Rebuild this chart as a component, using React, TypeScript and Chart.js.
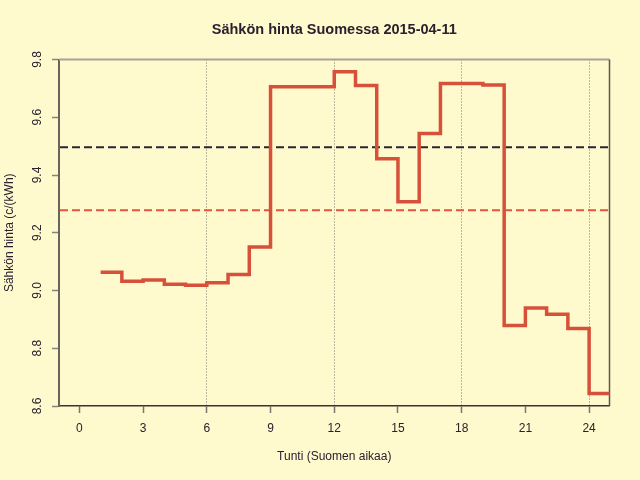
import React, { useEffect, useRef } from 'react';

import Chart from 'chart.js/auto';

const hours = [1, 2, 3, 4, 5, 6, 7, 8, 9, 10, 11, 12, 13, 14, 15, 16, 17, 18, 19, 20, 21, 22, 23, 24, 25];
const prices = [
  9.063, 9.032, 9.036, 9.022, 9.018, 9.027, 9.055, 9.151, 9.706, 9.706, 9.706, 9.758, 9.71,
  9.456, 9.307, 9.544, 9.717, 9.717, 9.712, 8.879, 8.939, 8.918, 8.868, 8.643, 8.643,
];
const xTicks = [0, 3, 6, 9, 12, 15, 18, 21, 24];
const yTicks = [8.6, 8.8, 9.0, 9.2, 9.4, 9.6, 9.8];
const refValues = [9.496, 9.278];
const refColors = ['#2a2430', '#e0563c'];

const title = 'Sähkön hinta Suomessa 2015-04-11';
const xTitle = 'Tunti (Suomen aikaa)';
const yTitle = 'Sähkön hinta (c/(kWh)';

const BG = '#fffacd';
const FONT = '"Liberation Sans", Arial, sans-serif';

const decor = {
  id: 'decor',
  beforeDraw(chart: any) {
    const { ctx, width, height } = chart;
    ctx.save();
    ctx.fillStyle = BG;
    ctx.fillRect(0, 0, width, height);
    ctx.restore();
  },
  beforeDatasetsDraw(chart: any) {
    const { ctx, chartArea } = chart;
    const y = chart.scales.y;
    ctx.save();
    ctx.lineWidth = 2;
    ctx.setLineDash([8, 4]);
    refValues.forEach((v, i) => {
      const py = y.getPixelForValue(v);
      ctx.strokeStyle = refColors[i];
      ctx.beginPath();
      ctx.moveTo(chartArea.left + 1, py);
      ctx.lineTo(chartArea.right - 1, py);
      ctx.stroke();
    });
    ctx.setLineDash([]);
    // top and right frame
    ctx.lineWidth = 2;
    ctx.strokeStyle = '#aaa294';
    ctx.beginPath();
    ctx.moveTo(chartArea.left, chartArea.top);
    ctx.lineTo(chartArea.right, chartArea.top);
    ctx.stroke();
    ctx.lineWidth = 1.5;
    ctx.strokeStyle = '#5e5650';
    ctx.beginPath();
    ctx.moveTo(chartArea.right, chartArea.top);
    ctx.lineTo(chartArea.right, chartArea.bottom);
    ctx.stroke();
    ctx.restore();
  },
  afterDraw(chart: any) {
    const { ctx, chartArea } = chart;
    const y = chart.scales.y;
    const cx = (chartArea.left + chartArea.right) / 2;
    ctx.save();
    ctx.fillStyle = '#2b2030';
    ctx.textAlign = 'center';
    ctx.textBaseline = 'middle';
    ctx.font = `bold 14.5px ${FONT}`;
    ctx.fillText(title, cx, 30);
    ctx.font = `12px ${FONT}`;
    ctx.fillText(xTitle, cx, 457);
    yTicks.forEach((v) => {
      ctx.save();
      ctx.translate(38, y.getPixelForValue(v));
      ctx.rotate(-Math.PI / 2);
      ctx.fillText(v.toFixed(1), 0, 0);
      ctx.restore();
    });
    ctx.save();
    ctx.translate(10, (chartArea.top + chartArea.bottom) / 2);
    ctx.rotate(-Math.PI / 2);
    ctx.fillText(yTitle, 0, 0);
    ctx.restore();
    ctx.restore();
  },
};

const App = () => {
  const canvasRef = useRef<HTMLCanvasElement>(null);

  useEffect(() => {
    const canvas = canvasRef.current;
    let chart: Chart | null = null;

    if (canvas) {
      chart = new Chart(canvas, {
        type: 'line',
        data: {
          datasets: [
            {
              data: hours.map((h, i) => ({ x: h, y: prices[i] })),
              stepped: 'before',
              borderColor: '#d6503a',
              borderWidth: 3.5,
              pointRadius: 0,
              fill: false,
            },
          ],
        },
        options: {
          animation: false,
          responsive: false,
          devicePixelRatio: 1,
          layout: { padding: { left: 0, top: 59.5, right: 30.5, bottom: 0 } },
          plugins: {
            legend: { display: false },
            tooltip: { enabled: false },
            title: { display: false },
          },
          scales: {
            x: {
              type: 'linear',
              min: -0.96,
              max: 24.96,
              afterBuildTicks: (scale: any) => {
                scale.ticks = xTicks.map((v) => ({ value: v }));
              },
              afterFit: (scale: any) => {
                scale.height = 74;
              },
              // in Chart.js 4 border.dash applies to the grid lines
              border: { color: '#3a3040', width: 1.5, dash: [1, 2] },
              grid: {
                color: (c: any) =>
                  c.tick && c.tick.value > 0 && c.tick.value % 6 === 0 ? '#7a7468' : 'rgba(0,0,0,0)',
                lineWidth: 1,
                drawTicks: true,
                tickLength: 7,
                tickColor: '#7a746c',
                tickWidth: 1.5,
                tickBorderDash: [],
              },
              ticks: {
                color: '#2b2030',
                font: { family: FONT, size: 12 },
                padding: 8,
                maxRotation: 0,
                callback: (v: any) => String(v),
              },
            },
            y: {
              type: 'linear',
              min: 8.6,
              max: 9.8,
              afterBuildTicks: (scale: any) => {
                scale.ticks = yTicks.map((v) => ({ value: v }));
              },
              afterFit: (scale: any) => {
                scale.width = 59;
              },
              border: { color: '#6b645c', width: 2 },
              grid: {
                drawOnChartArea: false,
                drawTicks: true,
                tickLength: 7,
                tickColor: '#8a8478',
                tickWidth: 1.5,
              },
              ticks: { display: false },
            },
          },
        },
        plugins: [decor],
      });
    }

    return () => {
      if (chart) {
        chart.destroy();
      }
    };
  }, []);

  return (
    <div style={{ position: 'fixed', left: 0, top: 0, width: 640, height: 480, background: BG }}>
      <canvas ref={canvasRef} width={640} height={480}></canvas>
    </div>
  );
};

export default App;
